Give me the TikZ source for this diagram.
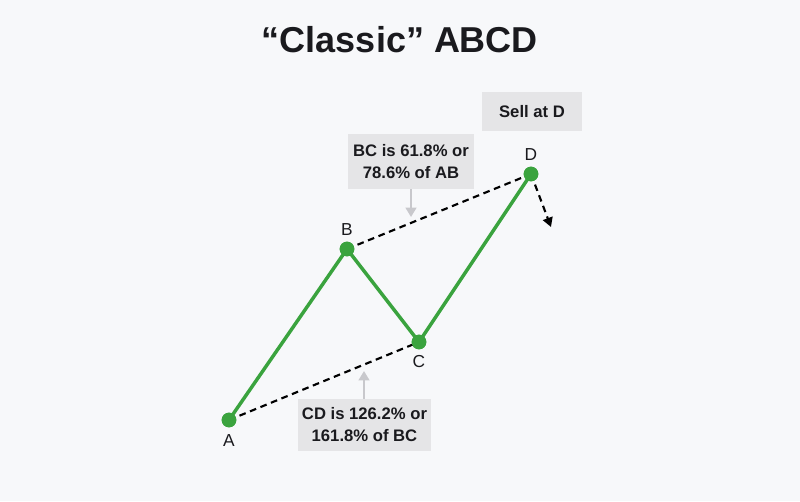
\documentclass[tikz,border=0pt]{standalone}
\usepackage{fontspec}
\setmainfont{Liberation Sans}
\usetikzlibrary{arrows.meta,positioning}
\definecolor{abcdgreen}{RGB}{58,163,62}
\definecolor{abcdbg}{RGB}{247,248,250}
\definecolor{abcdbox}{RGB}{229,229,231}
\definecolor{abcdarrow}{RGB}{200,200,204}
\definecolor{abcdtext}{RGB}{26,26,30}

\begin{document}
\begin{tikzpicture}[x=0.75pt, y=-0.75pt,
  infobox/.style={rectangle, fill=abcdbox, text=abcdtext, align=center,
    inner sep=0pt, font=\bfseries\fontsize{12.5}{16.5}\selectfont},
  pivot/.style={circle, fill=abcdgreen, inner sep=0pt, minimum size=11pt},
  ptlabel/.style={text=abcdtext, font=\fontsize{13}{15}\selectfont},
  leg/.style={abcdgreen, line width=2.6pt, line join=round},
  trend/.style={black, dashed, dash pattern=on 5pt off 3.5pt, line width=1.6pt},
  pointer/.style={abcdarrow, line width=1.5pt, -{Triangle[length=7pt, width=8pt]}}]

  % Background
  \fill[abcdbg] (0,0) rectangle (800,501);
  \useasboundingbox (0,0) rectangle (800,501);

  % Title
  \node[text=abcdtext, font=\bfseries\fontsize{27}{32}\selectfont] (title) at (400,40) {“Classic” ABCD};

  % Pivots
  \node[pivot] (A) at (229,420) {};
  \node[pivot] (B) at (347,249) {};
  \node[pivot] (C) at (419,342) {};
  \node[pivot] (D) at (531,174) {};
  \coordinate (Dnext) at (551,227);

  \node[ptlabel] (Alab) at (229,441) {A};
  \node[ptlabel] (Blab) at (347,230) {B};
  \node[ptlabel] (Clab) at (419,362) {C};
  \node[ptlabel] (Dlab) at (531,155) {D};

  % Boxes
  \node[infobox, minimum width=94.5pt, minimum height=41pt] (bcbox) at (411,161.5) {BC is 61.8\% or\\78.6\% of AB};
  \node[infobox, minimum width=75pt, minimum height=29pt] (sellbox) at (532,111.5) {Sell at D};
  \node[infobox, minimum width=100pt, minimum height=39pt] (cdbox) at (364.5,425) {CD is 126.2\% or\\161.8\% of BC};
  \coordinate (bctip) at (411,217);
  \coordinate (cdtip) at (364,371);

  % Trend lines
  \draw[trend] (A.center) -- (C.center);
  \draw[trend] (B.center) -- (D.center);
  \draw[trend, -{Triangle[length=7pt, width=7.5pt]}] (D.center) -- (Dnext);

  % Legs
  \draw[leg] (A.center) -- (B.center) -- (C.center) -- (D.center);
  \foreach \p in {A,B,C,D}
    \node[pivot] at (\p) {};

  % Pointers
  \draw[pointer] (bcbox.south) -- (bctip);
  \draw[pointer] (cdbox.north -| cdtip) -- (cdtip);
\end{tikzpicture}
\end{document}
